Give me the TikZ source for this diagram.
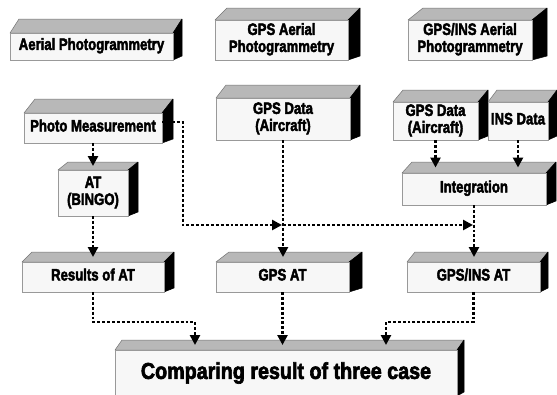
\documentclass[tikz,border=0pt]{standalone}
\usepackage{fontspec}
\setmainfont{Liberation Sans}[BoldFeatures={FakeBold=3}]
\usepackage{graphicx}
\usetikzlibrary{arrows.meta,calc}
\newcommand{\lbl}[1]{\scalebox{0.8}[1]{\begin{tabular}{@{}c@{}}#1\end{tabular}}}
% #1 name, #2 x1, #3 y1, #4 x2, #5 y2, #6 dx, #7 dy, #8 text
\newcommand{\mkblock}[8]{%
  \pgfmathsetmacro{\bw}{#4-#2}%
  \pgfmathsetmacro{\bh}{#5-#3}%
  \pgfmathsetmacro{\bcx}{(#2+#4)/2}%
  \pgfmathsetmacro{\bcy}{(#3+#5)/2}%
  \filldraw[topface] (#2,#3) -- (#2+#6,#3-#7) -- (#4+#6,#3-#7) -- (#4,#3) -- cycle;
  \filldraw[sideface] (#4,#3) -- (#4+#6,#3-#7) -- (#4+#6,#5-4) -- (#4,#5) -- cycle;
  \node[frontface, minimum width=\bw bp, minimum height=\bh bp] (#1) at (\bcx,\bcy) {#8};
  \coordinate (#1-t) at (\bcx+#6/2,#3-#7/2);
}
\begin{document}
\begin{tikzpicture}[x=1bp,y=-1bp,
  topface/.style={fill=black!28, draw=black!55, line width=0.5bp, line join=round},
  sideface/.style={fill=black, draw=black, line width=0.5bp, line join=round},
  frontface/.style={draw=black!40, line width=0.6bp, fill=black!3, inner sep=0pt, outer sep=0pt,
    font=\fontsize{16.5}{17}\selectfont\bfseries, text=black},
  link/.style={line width=2.9bp, dash pattern=on 2.9bp off 2bp},
  conn/.style={link, -{Triangle[length=10bp,width=10bp]}}]
\fill[white] (0,0) rectangle (557,394);
\useasboundingbox (0,0) rectangle (557,394);

% row 1
\mkblock{A}{10}{33}{173}{60}{9}{14}{\lbl{Aerial Photogrammetry}}
\mkblock{B}{215}{20}{348}{60}{12}{12}{\lbl{GPS Aerial\\Photogrammetry}}
\mkblock{C}{408}{20}{532}{60}{15}{12}{\lbl{GPS/INS Aerial\\Photogrammetry}}
% row 2
\mkblock{D}{24}{113}{162}{143}{11}{14}{\lbl{Photo Measurement}}
\mkblock{E}{216}{98}{350}{140}{10}{13}{\lbl{GPS Data\\(Aircraft)}}
\mkblock{F}{393}{102}{478}{140}{10}{12}{\lbl{GPS Data\\(Aircraft)}}
\mkblock{G}{488}{102}{548}{140}{9}{12}{\lbl{INS Data}}
\mkblock{H}{402}{173}{546}{205}{10}{11}{\lbl{Integration}}
\mkblock{I}{58}{170}{128}{216}{10}{8}{\lbl{AT\\(BINGO)}}
% row 3
\mkblock{J}{22}{262}{164}{292}{10}{10}{\lbl{Results of AT}}
\mkblock{K}{216}{262}{349}{292}{13}{10}{\lbl{GPS AT}}
\mkblock{L}{407}{262}{540}{292}{8}{10}{\lbl{GPS/INS AT}}
% bottom
\mkblock{M}{115}{350}{457}{396}{7}{10}{\raisebox{2.5bp}{\scalebox{0.86}[1]{\fontsize{23}{24}\selectfont Comparing result of three case}}}

% junction coordinates
\coordinate (bendA) at (183,225);
\coordinate (lowY) at (0,322);
\coordinate (lowL) at (195,322);
\coordinate (lowR) at (386,322);
\coordinate (hitK) at (E.south |- bendA);
\coordinate (hitL) at (H.south |- bendA);

% connectors
\draw[conn] (D.south) -- (D.south |- I-t);
\draw[conn] (I.south) -- (I.south |- J-t);
\draw[conn] (E.south) -- (E.south |- K-t);
\draw[conn] (F.south) -- (F.south |- H-t);
\draw[conn] (G.south) -- (G.south |- H-t);
\draw[conn] (H.south) -- (H.south |- L-t);
\draw[conn] ([yshift=6bp]D.east) -- ([yshift=6bp]D.east -| bendA) -- (bendA) -- ([xshift=-1bp]hitK);
\draw[conn] (hitK) -- ([xshift=-1bp]hitL);
\draw[conn] (J.south) -- (J.south |- lowY) -- (lowL) -- (lowL |- M-t);
\draw[conn] (K.south) -- (K.south |- M-t);
\draw[conn] (L.south) -- (L.south |- lowY) -- (lowR) -- (lowR |- M-t);
\end{tikzpicture}
\end{document}
